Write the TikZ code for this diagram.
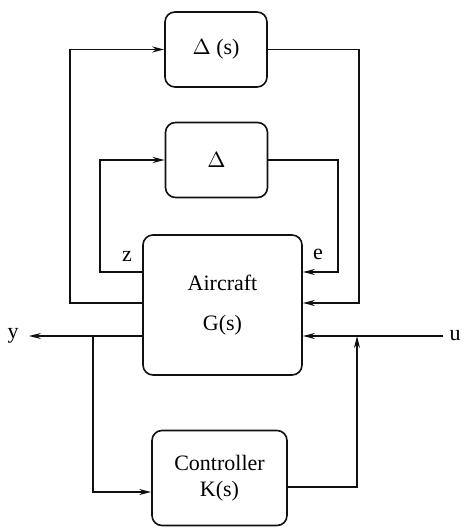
\documentclass[tikz,border=0pt]{standalone}
\usepackage{fontspec}
\setmainfont{Liberation Serif}
\usetikzlibrary{arrows.meta}
\definecolor{loopLine}{HTML}{111111}
\tikzset{
  loopfig/.style={
    x=0.5pt, y=-0.5pt,
    every node/.append style={font=\fontsize{11}{13}\selectfont},
    >={Stealth[length=6pt, width=3pt]},
  },
  blockbox/.style={
    draw=loopLine, line width=0.8pt, rounded corners=5pt,
    align=center, inner sep=2pt,
  },
  deltabox/.style={blockbox, minimum width=51pt, minimum height=37.5pt},
  plantbox/.style={blockbox, minimum width=79.5pt, minimum height=70pt},
  ctrlbox/.style={blockbox, minimum width=67.5pt, minimum height=47.5pt},
  sig/.style={draw=loopLine, line width=0.7pt},
  siglabel/.style={inner sep=1pt},
}
\begin{document}
\begin{tikzpicture}[loopfig]
  \useasboundingbox (0,0) rectangle (465,528);
  \node[deltabox] (DeltaS) at (216,49.5) {$\Delta$ (s)};
  \node[deltabox] (Delta) at (216.5,160) {$\Delta$};
  \node[plantbox] (Aircraft) at (222.5,305) {Aircraft\\[7pt]G(s)};
  \node[ctrlbox] (Controller) at (219.5,478) {Controller\\K(s)};
  \node[siglabel] (yOut) at (13,336) {y};
  \node[siglabel] (uIn) at (455,336) {u};
  \node[siglabel] at (127,256) {z};
  \node[siglabel] at (318,254) {e};
  % Umleitungspunkte der Schleifen
  \coordinate (outerL) at (70,303);
  \coordinate (outerR) at (359,303);
  \coordinate (innerL) at (100,272);
  \coordinate (innerR) at (338,272);
  \coordinate (yBranch) at (93,336);
  \coordinate (uBranch) at (357,336);
  \coordinate (ctrlIn) at (93,492);
  \coordinate (ctrlOut) at (357,487);
  \draw[sig, ->] (Aircraft.west |- outerL) -- (outerL) |- (DeltaS.west);
  \draw[sig, ->] (DeltaS.east) -| (outerR) -- (Aircraft.east |- outerR);
  \draw[sig, ->] (Aircraft.west |- innerL) -- (innerL) |- (Delta.west);
  \draw[sig, ->] (Delta.east) -| (innerR) -- (Aircraft.east |- innerR);
  \draw[sig, ->] (Aircraft.west |- yOut) -- ([xshift=4pt]yOut.east);
  \draw[sig, ->] ([xshift=-2pt]uIn.west) -- (Aircraft.east |- uIn);
  \draw[sig, ->] (yBranch) -- (ctrlIn) -- (Controller.west |- ctrlIn);
  \draw[sig, ->] (Controller.east |- ctrlOut) -| (uBranch);
\end{tikzpicture}
\end{document}
